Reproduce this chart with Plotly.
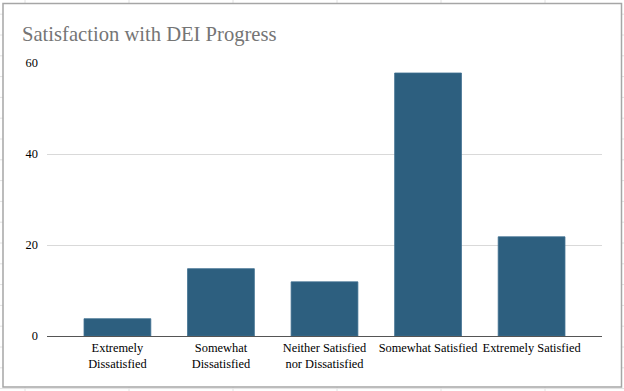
import plotly.graph_objects as go

categories = ["Extremely<br>Dissatisfied", "Somewhat<br>Dissatisfied",
              "Neither Satisfied<br>nor Dissatisfied", "Somewhat Satisfied",
              "Extremely Satisfied"]
values = [3.8, 14.8, 11.9, 57.8, 21.8]
y_ticks = [0, 20, 40, 60]
title_text = "Satisfaction with DEI Progress"

W, H = 624, 391
L, R, T, B = 47, 22, 63, 55
PW, PH = W - L - R, H - T - B


def px(x):
    return (x - L) / PW


def py(y):
    return (H - B - y) / PH


shapes = []
# spreadsheet grid behind the chart
for gx in [25, 129, 233, 337, 441, 545]:
    shapes.append(dict(type="line", xref="paper", yref="paper", x0=px(gx), x1=px(gx),
                       y0=py(0), y1=py(H), line=dict(color="#e2e2e2", width=1), layer="below"))
for k in range(20):
    gy = 14.2 + 20.8 * k
    if gy > H:
        break
    shapes.append(dict(type="line", xref="paper", yref="paper", x0=px(0), x1=px(W),
                       y0=py(gy), y1=py(gy), line=dict(color="#e2e2e2", width=1), layer="below"))
# chart box
shapes.append(dict(type="rect", xref="paper", yref="paper", x0=px(3), x1=px(621.5),
                   y0=py(387), y1=py(3.5), fillcolor="white",
                   line=dict(color="#a6a6a6", width=1.5), layer="below"))

fig = go.Figure(go.Bar(
    x=categories, y=values,
    marker=dict(color="#2d5f7f", line=dict(color="#3d6f8f", width=0.8)),
    width=0.645,
))

fig.update_layout(
    width=W, height=H,
    margin=dict(l=L, r=R, t=T, b=B),
    paper_bgcolor="white", plot_bgcolor="rgba(0,0,0,0)",
    font=dict(family="Liberation Serif, Times New Roman, serif", size=12.4, color="#000000"),
    title=dict(text=title_text, xref="container", yref="container",
               x=22 / W, xanchor="left", y=1 - 34 / H, yanchor="middle",
               font=dict(family="Liberation Serif, Times New Roman, serif", size=20.6, color="#757575")),
    showlegend=False,
    shapes=shapes,
    bargap=0.355,
)
fig.update_xaxes(range=[-0.68, 4.68], showline=True, linecolor="#555555", linewidth=1.2,
                 ticks="", showgrid=False, tickfont=dict(size=12.4, color="#000000"))
fig.update_yaxes(range=[0, 60], tickvals=y_ticks, showgrid=True, gridcolor="#d9d9d9",
                 gridwidth=1, zeroline=False, ticks="", ticklabelstandoff=8,
                 tickfont=dict(size=12.4, color="#000000"))

fig.write_html("out.html", config={"displayModeBar": False},
               post_script="document.body.style.margin='0';document.body.style.padding='0';")
